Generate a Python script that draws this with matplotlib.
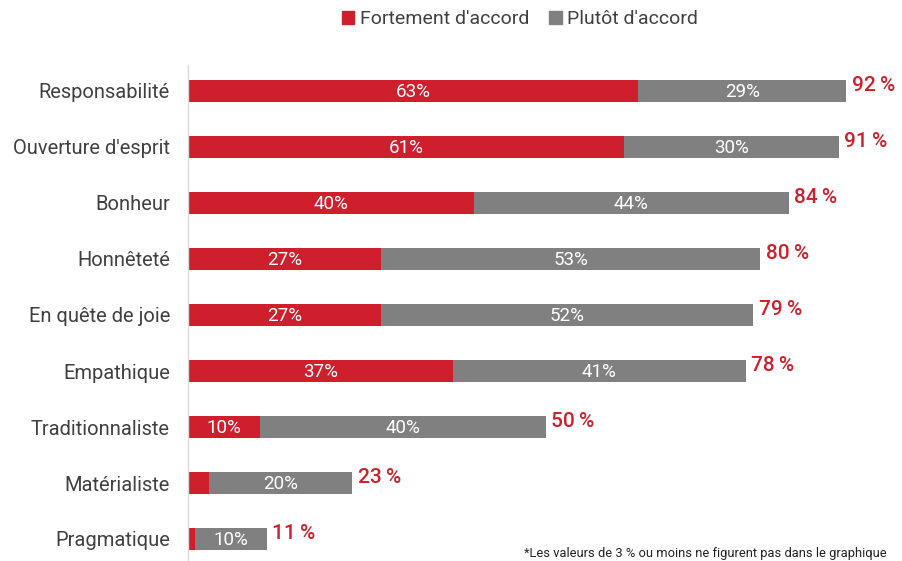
import matplotlib
matplotlib.use("Agg")
import matplotlib.pyplot as plt
from matplotlib.patches import Patch

categories = ["Responsabilité", "Ouverture d'esprit", "Bonheur", "Honnêteté",
              "En quête de joie", "Empathique", "Traditionnaliste",
              "Matérialiste", "Pragmatique"]
strongly = [63, 61, 40, 27, 27, 37, 10, 3, 1]
somewhat = [29, 30, 44, 53, 52, 41, 40, 20, 10]
totals = [92, 91, 84, 80, 79, 78, 50, 23, 11]

RED = "#CF1F2D"
GREY = "#808080"
TEXT = "#404040"
FONT = "Roboto"

W, H = 902, 561
fig = plt.figure(figsize=(W / 100, H / 100), dpi=100)
ax = fig.add_axes([188 / W, 0, 714 / W, (561 - 65) / H])

y = list(range(len(categories)))
bh = 0.39
ax.barh(y, strongly, height=bh, color=RED, zorder=2)
ax.barh(y, somewhat, left=strongly, height=bh, color=GREY, zorder=2)

for i, (s, g, t) in enumerate(zip(strongly, somewhat, totals)):
    if s > 3:
        ax.text(s / 2, i + 0.02, f"{s}%", ha="center", va="center",
                color="white", fontsize=13.5, family=FONT)
    if g > 3:
        ax.text(s + g / 2, i + 0.02, f"{g}%", ha="center", va="center",
                color="white", fontsize=13.5, family=FONT)
    ax.text(s + g + 0.8, i - 0.09, f"{t}\u2009%", ha="left", va="center",
            color=RED, fontsize=15, fontweight="medium", family=[FONT, "DejaVu Sans"])

ax.set_xlim(0, 714 / 7.15)
ax.set_ylim(8 + (561 - 539) / 56, -(91 - 65) / 56)
ax.set_yticks(y)
ax.set_yticklabels(categories, fontsize=14.5, color=TEXT, family=FONT)
ax.tick_params(axis="y", length=0, pad=13)
ax.set_xticks([])
for side in ["top", "right", "bottom"]:
    ax.spines[side].set_visible(False)
ax.spines["left"].set_color("#D9D9D9")
ax.spines["left"].set_linewidth(1)

handles = [Patch(color=RED, label="Fortement d'accord"),
           Patch(color=GREY, label="Plutôt d'accord")]
fig.legend(handles=handles, loc="center", bbox_to_anchor=(520 / W, 1 - 19 / H),
           ncol=2, frameon=False, handlelength=0.65, handleheight=0.65,
           handletextpad=0.3, columnspacing=1.0,
           prop={"family": FONT, "size": 14}, labelcolor=TEXT)

fig.text(524 / W, 1 - 554 / H,
         "*Les valeurs de 3 % ou moins ne figurent pas dans le graphique",
         fontsize=9.3, color="#222222", family=FONT, ha="left", va="center")

fig.savefig("out.png", dpi=100)
